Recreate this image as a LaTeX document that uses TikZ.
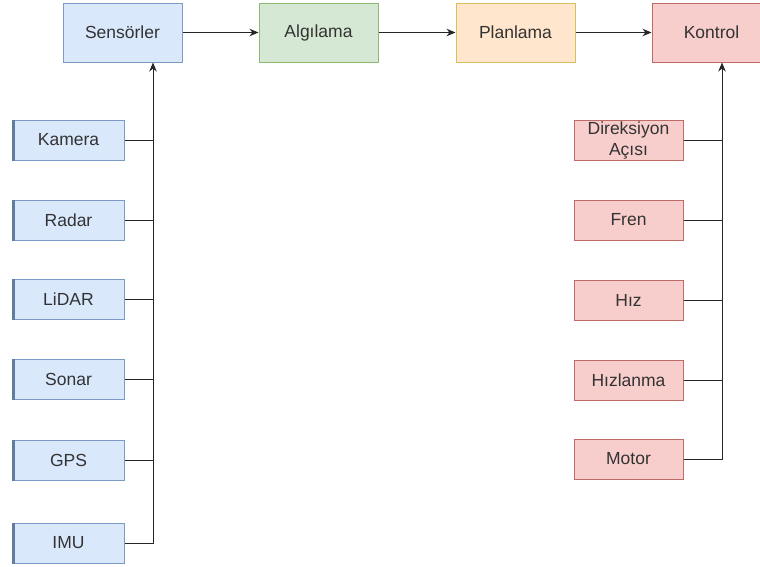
\documentclass[tikz,border=0pt]{standalone}
\usepackage{fontspec}
\setmainfont{Liberation Sans}
\usetikzlibrary{arrows.meta}

\definecolor{bluefill}{HTML}{DAE8FC}
\definecolor{blueline}{HTML}{7C9AC6}
\definecolor{greenfill}{HTML}{D5E8D4}
\definecolor{greenline}{HTML}{8DBA72}
\definecolor{orangefill}{HTML}{FFE6CC}
\definecolor{orangeline}{HTML}{D9BE5C}
\definecolor{redfill}{HTML}{F8CECC}
\definecolor{redline}{HTML}{BE6A66}
\definecolor{txt}{HTML}{333333}

\tikzset{
  box/.style={draw, line width=1pt, minimum height=59pt, minimum width=119pt,
    inner sep=0pt, font=\fontsize{17.5}{20.5}\selectfont, text=txt, align=center},
  topblue/.style={box, fill=bluefill, draw=blueline},
  topgreen/.style={box, fill=greenfill, draw=greenline},
  toporange/.style={box, fill=orangefill, draw=orangeline},
  topred/.style={box, fill=redfill, draw=redline},
  sensor/.style={box, fill=bluefill, draw=blueline, minimum width=111pt, minimum height=40pt},
  actuator/.style={box, fill=redfill, draw=redline, minimum width=109pt, minimum height=40pt},
  link/.style={draw=black!85, line width=1pt},
  arr/.style={link, -{Stealth[length=9pt,width=7.5pt]}},
}

\begin{document}
\begin{tikzpicture}[x=1pt, y=-1pt]
\useasboundingbox (0,0) rectangle (760,566);
\clip (0,0) rectangle (760,566);
\fill[white] (0,0) rectangle (760,566);

% processing pipeline
\node[topblue]   (sens) at (122.5,32.5) {Sensörler};
\node[topgreen]  (alg)  at (318.5,32.5) {Algılama};
\node[toporange] (plan) at (515.5,32.5) {Planlama};
\node[topred]    (ctrl) at (711.5,32.5) {Kontrol};

\draw[arr] (sens) -- (alg);
\draw[arr] (alg) -- (plan);
\draw[arr] (plan) -- (ctrl);

% sensor inputs
\node[sensor] (kam)   at (68.5,140) {Kamera};
\node[sensor] (radar) at (68.5,220) {Radar};
\node[sensor] (lidar) at (68.5,299) {LiDAR};
\node[sensor] (sonar) at (68.5,379) {Sonar};
\node[sensor] (gps)   at (68.5,460) {GPS};
\node[sensor] (imu)   at (68.5,543) {IMU};

% darker left edge on sensor boxes
\foreach \n in {kam,radar,lidar,sonar,gps,imu}{
  \draw[blueline!80!black, line width=2.5pt] ([xshift=1pt]\n.north west) -- ([xshift=1pt]\n.south west);
}

\coordinate (lbus) at (153,0);
\foreach \n in {kam,radar,lidar,sonar,gps}{
  \draw[link] (\n.east) -- (\n.east -| lbus);
}
\draw[arr] (imu.east) -- (imu.east -| lbus) -- (lbus |- sens.south);

% control outputs
\node[actuator] (dir)   at (628.5,140.5) {Direksiyon\\Açısı};
\node[actuator] (fren)  at (628.5,220) {Fren};
\node[actuator] (hiz)   at (628.5,300) {Hız};
\node[actuator] (ivme)  at (628.5,380) {Hızlanma};
\node[actuator] (motor) at (628.5,459) {Motor};

\coordinate (rbus) at (722,0);
\foreach \n in {dir,fren,hiz,ivme}{
  \draw[link] (\n.east) -- (\n.east -| rbus);
}
\draw[arr] (motor.east) -- (motor.east -| rbus) -- (rbus |- ctrl.south);
\end{tikzpicture}
\end{document}
